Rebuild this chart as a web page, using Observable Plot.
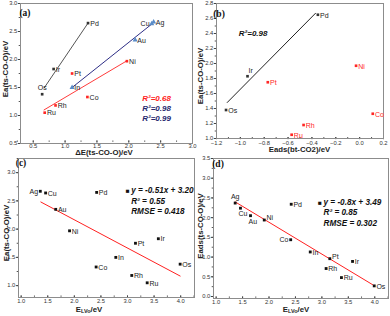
<!DOCTYPE html>
<html><head><meta charset="utf-8">
<script src="https://cdn.jsdelivr.net/npm/d3@7"></script>
<script src="https://cdn.jsdelivr.net/npm/@observablehq/plot@0.6"></script>
<style>
body{margin:0;background:#fff}
#wrap{position:relative;width:390px;height:316px;overflow:hidden;font-family:Arial,"Liberation Sans",sans-serif}
#wrap svg{position:absolute}
</style>
</head><body><div id="wrap"></div>
<script>
// ---- data ----
const metals      = ["Ag","Cu","Au","Ni","Pd","Co","In","Pt","Ir","Rh","Ru","Os"];
const eaTsCOO     = [2.67,2.64,2.35,1.97,2.65,1.33,1.50,1.75,1.83,1.18,1.05,1.38];
const dEtsCOO     = [2.39,2.36,2.10,1.97,1.36,1.35,1.11,1.11,0.82,0.85,0.68,0.64];
const groupA      = ["blue","blue","blue","red","black","red","blue","red","black","red","red","black"];
const eLVo        = [1.36,1.46,1.65,1.91,2.42,2.41,2.78,3.15,3.58,3.08,3.37,3.99];
const eadsTsCOO   = [2.37,2.24,2.05,1.94,2.34,1.44,1.13,0.96,0.89,0.71,0.48,0.27];
const bMetals     = ["Pd","Ir","Os","Pt","Ni","Co","Rh","Ru"];
const eadsBtCO2   = [-0.35,-0.94,-1.12,-0.77,-0.03,0.11,-0.47,-0.57];
const bEa         = [2.65,1.83,1.38,1.75,1.97,1.33,1.18,1.05];
const bGroup      = ["black","black","black","red","red","red","red","red"];
// fitted lines (end points)
const fitABlack = [[0.67,1.49],[1.36,2.65]];
const fitABlue  = [[1.11,1.50],[2.38,2.65]];
const fitARed   = [[0.67,1.10],[1.96,1.97]];
const fitB      = [[-1.11,1.48],[-0.37,2.67]];
const fitC      = [[1.37,2.48],[3.99,1.17]];
const fitD      = [[1.36,2.40],[3.96,0.30]];
// text
const r2A = ["R²=0.68","R²=0.98","R²=0.99"];
const r2B = ["R²=0.98"];
const statsC = ["y = -0.51x + 3.20","R² = 0.55","RMSE = 0.418"];
const statsD = ["y = -0.8x + 3.49","R² = 0.85","RMSE = 0.302"];

// ---- helpers ----
const FONT = "Arial, 'Liberation Sans', sans-serif";
const fmt = d3.format(".1f");
const POS = {
  r:{dx:2.2,dy:0.5,textAnchor:"start"},
  l:{dx:-2.2,dy:0.5,textAnchor:"end"},
  t:{dx:0,dy:-6,textAnchor:"middle"},
  tr:{dx:1,dy:-6,textAnchor:"start"},
  b:{dx:-2,dy:6,textAnchor:"start"},
  ru:{dx:2.2,dy:-2,textAnchor:"start"}
};
function labels(data, place, fill){
  const groups = d3.group(data, d => place[d.m] || "r");
  return Array.from(groups, ([k, arr]) => Plot.text(arr, {
    x:"x", y:"y", text:"m", fontSize:7, fill: typeof fill === "function" ? fill : () => fill,
    lineAnchor:"middle", ...POS[k]
  }));
}
const wrap = document.getElementById("wrap");
function panel(c){
  const svg = Plot.plot({
    width:c.w, height:c.h,
    marginTop:c.m[0], marginRight:c.m[1], marginBottom:c.m[2], marginLeft:c.m[3],
    x:{domain:c.xd}, y:{domain:c.yd},
    style:{fontFamily:FONT, overflow:"visible", background:"transparent"},
    marks:[
      Plot.axisX({ticks:c.xm, tickSize:1.3, tickFormat:()=>"", label:null, stroke:"#555", dy:c.xdy}),
      Plot.axisY({ticks:c.ym, tickSize:1.3, tickFormat:()=>"", label:null, stroke:"#555"}),
      Plot.axisX({ticks:c.xt, tickSize:2.2, tickPadding:1, fontSize:5.8, tickFormat:fmt, label:null, stroke:"#444", fill:"#333", dy:c.xdy}),
      Plot.axisY({ticks:c.yt, tickSize:2.2, tickPadding:1, fontSize:5.8, tickFormat:fmt, label:null, stroke:"#444", fill:"#333"}),
      Plot.frame({stroke:"#8c8c8c", strokeWidth:1}),
      ...c.marks
    ]
  });
  svg.style.left = c.left + "px";
  svg.style.top = c.top + "px";
  wrap.appendChild(svg);
  const s = d3.select(svg);
  const xt = s.append("text").attr("x", c.xl[0]).attr("y", c.xl[1])
    .attr("text-anchor","middle").attr("dominant-baseline","middle")
    .attr("font-size",7.8).attr("font-weight","bold").attr("fill","#222").attr("font-family",FONT);
  if (c.sub){
    xt.append("tspan").text(c.xlabel[0]);
    xt.append("tspan").attr("font-size",5.5).attr("dy",2).text(c.xlabel[1]);
    xt.append("tspan").attr("dy",-2).text(c.xlabel[2]);
  } else xt.text(c.xlabel);
  s.append("text").attr("transform",`translate(${c.yl[0]},${c.yl[1]}) rotate(-90)`)
    .attr("text-anchor","middle").attr("dominant-baseline","middle")
    .attr("font-size",7.8).attr("font-weight","bold").attr("fill","#222").attr("font-family",FONT)
    .text(c.ylabel);
  s.append("text").attr("x",c.tag[0]).attr("y",c.tag[1]).attr("dominant-baseline","middle")
    .attr("font-size",9.5).attr("font-weight","bold").attr("font-family","'Liberation Serif','Times New Roman',serif")
    .attr("fill","#111").text(c.tagText);
  return svg;
}
const lineOpts = (stroke) => ({x:d=>d[0], y:d=>d[1], stroke, strokeWidth:1});
const range = (a,b,s) => d3.range(Math.round((b-a)/s)+1).map(i => +(a+i*s).toFixed(3));

// ---- panel (a) ----
const A = metals.map((m,i)=>({m, x:dEtsCOO[i], y:eaTsCOO[i], g:groupA[i]}));
panel({
  left:0, top:0, w:195, h:158, m:[3,3,15,20],
  xd:[0.3,3.0], yd:[0.5,3.0], xdy:-2.5,
  xt:range(0.5,3.0,0.5), xm:range(0.25,3.0,0.25), yt:range(0.5,3.0,0.5), ym:range(0.5,3.0,0.25),
  xlabel:"ΔE(ts-CO-O)/eV", xl:[104,153], ylabel:"Ea(ts-CO-O)/eV", yl:[6,69],
  tagText:"(a)", tag:[25,13.5],
  marks:[
    Plot.line(fitABlack, lineOpts("#555")),
    Plot.line(fitABlue, lineOpts("#2e2e86")),
    Plot.line(fitARed, lineOpts("#ff3b3b")),
    Plot.dot(A.filter(d=>d.g==="black"), {x:"x", y:"y", symbol:"square", r:1.5, fill:"#333"}),
    Plot.dot(A.filter(d=>d.g==="red"), {x:"x", y:"y", symbol:"square", r:1.5, fill:"#ff2626"}),
    Plot.dot(A.filter(d=>d.g==="blue"), {x:"x", y:"y", symbol:"triangle", r:1.9, fill:"#5a8cc8"}),
    ...labels(A, {Os:"t", Cu:"l"}, "#222"),
    Plot.text([r2A[0]], {frameAnchor:"top-left", dx:121.7, dy:94.7, text:d=>d, fontSize:8, fontWeight:"bold", fontStyle:"italic", fill:"#ff2020", textAnchor:"start", lineAnchor:"middle"}),
    Plot.text([r2A[1]], {frameAnchor:"top-left", dx:121.7, dy:105.3, text:d=>d, fontSize:8, fontWeight:"bold", fontStyle:"italic", fill:"#26266e", textAnchor:"start", lineAnchor:"middle"}),
    Plot.text([r2A[2]], {frameAnchor:"top-left", dx:121.7, dy:114.7, text:d=>d, fontSize:8, fontWeight:"bold", fontStyle:"italic", fill:"#26266e", textAnchor:"start", lineAnchor:"middle"})
  ]
});

// ---- panel (b) ----
const B = bMetals.map((m,i)=>({m, x:eadsBtCO2[i], y:bEa[i], g:bGroup[i]}));
panel({
  left:195, top:0, w:195, h:158, m:[3,7,20,21],
  xd:[-1.2,0.2], yd:[1.0,2.8], xdy:-1,
  xt:range(-1.2,0.2,0.2), xm:range(-1.2,0.2,0.1), yt:range(1.0,2.8,0.2), ym:range(1.0,2.8,0.1),
  xlabel:"Eads(bt-CO2)/eV", xl:[104.5,149.5], ylabel:"Ea(ts-CO-O)/eV", yl:[5.7,76],
  tagText:"(b)", tag:[24,15],
  marks:[
    Plot.line(fitB, lineOpts("#222")),
    Plot.dot(B.filter(d=>d.g==="black"), {x:"x", y:"y", symbol:"square", r:1.5, fill:"#333"}),
    Plot.dot(B.filter(d=>d.g==="red"), {x:"x", y:"y", symbol:"square", r:1.5, fill:"#ff2626"}),
    ...labels(B, {Ir:"tr"}, d => d.g==="red" ? "#ff2626" : "#222"),
    Plot.text(r2B, {frameAnchor:"top-left", dx:22.3, dy:30.3, text:d=>d, fontSize:8, fontWeight:"bold", fontStyle:"italic", fill:"#111", textAnchor:"start", lineAnchor:"middle"})
  ]
});

// ---- panel (c) ----
const C = metals.map((m,i)=>({m, x:eLVo[i], y:eaTsCOO[i]}));
const statMarks = (lines, dx, dys) => [
  Plot.text(["■"], {frameAnchor:"top-left", dx:dx-3.5, dy:dys[0], text:d=>d, fontSize:6.5, fill:"#111", textAnchor:"middle", lineAnchor:"middle"}),
  ...lines.map((t,i)=>Plot.text([t], {frameAnchor:"top-left", dx, dy:dys[i], text:d=>d, fontSize:8.2, fontWeight:"bold", fontStyle:"italic", fill:"#111", textAnchor:"start", lineAnchor:"middle"}))
];
panel({
  left:0, top:158, w:195, h:158, m:[0,1,19,18],
  xd:[0.95,4.26], yd:[0.79,3.25], xdy:-1.5,
  xt:range(1.0,4.0,0.5), xm:range(1.0,4.25,0.25), yt:range(1.0,3.0,0.5), ym:range(1.0,3.25,0.25),
  xlabel:["E","LVo","/eV"], sub:true, xl:[89,152], ylabel:"Ea(ts-CO-O)/eV", yl:[6.7,75],
  tagText:"(c)", tag:[21,5.3],
  marks:[
    Plot.line(fitC, lineOpts("#ff2020")),
    Plot.dot(C, {x:"x", y:"y", symbol:"square", r:1.6, fill:"#111"}),
    ...labels(C, {Ag:"l"}, "#222"),
    ...statMarks(statsC, 112.7, [32.3,43.3,53.3])
  ]
});

// ---- panel (d) ----
const D = metals.map((m,i)=>({m, x:eLVo[i], y:eadsTsCOO[i]}));
panel({
  left:195, top:158, w:195, h:158, m:[0,2,18,18],
  xd:[0.95,4.26], yd:[-0.05,3.5], xdy:-1.5,
  xt:range(1.0,4.0,0.5), xm:range(1.0,4.25,0.25), yt:range(0.0,3.5,0.5), ym:range(0.0,3.5,0.25),
  xlabel:["E","LVo","/eV"], sub:true, xl:[101,152], ylabel:"Eads(ts-CO-O)/eV", yl:[5.7,68],
  tagText:"(d)", tag:[23,7],
  marks:[
    Plot.line(fitD, lineOpts("#ff2020")),
    Plot.dot(D, {x:"x", y:"y", symbol:"square", r:1.6, fill:"#111"}),
    ...labels(D, {Ag:"t", Cu:"b", Au:"b", Co:"l", Ni:"ru", Pt:"ru"}, "#222"),
    ...statMarks(statsD, 110, [44.3,54.3,65])
  ]
});
</script>
</body></html>
